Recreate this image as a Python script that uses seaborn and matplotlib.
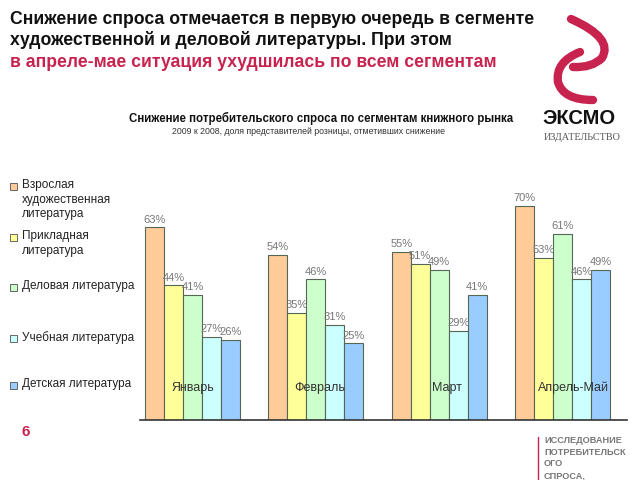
import numpy as np
import pandas as pd
import matplotlib
matplotlib.use("Agg")
import matplotlib.pyplot as plt
import seaborn as sns
from matplotlib.path import Path
from matplotlib.patches import PathPatch, Rectangle

# data
months = ["Январь", "Февраль", "Март", "Апрель-Май"]
segments = [
    "Взрослая\nхудожественная\nлитература",
    "Прикладная\nлитература",
    "Деловая литература",
    "Учебная литература",
    "Детская литература",
]
adult_fiction = [63, 54, 55, 70]
applied = [44, 35, 51, 53]
business = [41, 46, 49, 61]
education = [27, 31, 29, 46]
children = [26, 25, 41, 49]

colors = ["#FFCC99", "#FFFF99", "#CCFFCC", "#CCFFFF", "#99CCFF"]
RED = "#C8234F"
W, H = 640, 480

df = pd.DataFrame({
    "month": months * 5,
    "segment": np.repeat(segments, 4),
    "value": adult_fiction + applied + business + education + children,
})

sns.set_theme(style="white")
plt.rcParams["font.family"] = ["Liberation Sans", "DejaVu Sans"]

fig = plt.figure(figsize=(6.4, 4.8), dpi=100)
ax = fig.add_axes([0.219, 0.126, 0.76, 0.508])

sns.barplot(
    data=df, x="month", y="value", hue="segment",
    order=months, hue_order=segments, palette=colors,
    width=0.77, edgecolor="#556655", linewidth=0.8,
    saturation=1, errorbar=None, legend=False, ax=ax,
)

for cont in ax.containers:
    ax.bar_label(cont, fmt="%d%%", padding=2, fontsize=8, color="#777777")

for i, m in enumerate(months):
    ax.text(i + 0.03 * i, 10.3, m, ha="center", va="center", fontsize=9,
            color="#333333")

ax.set_ylim(0, 80)
ax.set_xlim(-0.426, 3.52)
ax.set_xlabel("")
ax.set_ylabel("")
ax.set_xticks([])
ax.set_yticks([])
for s in ["top", "right", "left"]:
    ax.spines[s].set_visible(False)
ax.spines["bottom"].set_color("#333333")
ax.spines["bottom"].set_linewidth(1.2)

# legend on the left, marker next to first line of each label
leg_y = [186, 237, 287, 338, 385]
for lab, col, y in zip(segments, colors, leg_y):
    fig.patches.append(Rectangle((10 / W, 1 - (y + 3.5) / H), 7 / W, 7 / H,
                                 transform=fig.transFigure, facecolor=col,
                                 edgecolor="#666666", linewidth=0.7))
    fig.text(22 / W, 1 - (y - 7) / H, lab, ha="left", va="top", fontsize=8.5,
             color="#222222", linespacing=1.3)

# headline
fig.text(0.016, 0.978, "Снижение спроса отмечается в первую очередь в сегменте\n"
         "художественной и деловой литературы. При этом",
         ha="left", va="top", fontsize=12.7, fontweight="bold", color="#111111",
         linespacing=1.25)
fig.text(0.016, 0.869, "в апреле-мае ситуация ухудшилась по всем сегментам",
         ha="left", va="center", fontsize=12.7, fontweight="bold", color=RED)

# chart title
fig.text(0.502, 0.754, "Снижение потребительского спроса по сегментам книжного рынка",
         ha="center", va="center", fontsize=8.3, fontweight="bold", color="#111111")
fig.text(0.482, 0.725, "2009 к 2008, доля представителей розницы, отметивших снижение",
         ha="center", va="center", fontsize=6.3, color="#333333")

# logo swirl
def swirl(pts):
    verts = [(x / W, 1 - y / H) for x, y in pts]
    codes = [Path.MOVETO] + [Path.CURVE3] * (len(pts) - 1)
    fig.patches.append(PathPatch(Path(verts, codes), transform=fig.transFigure,
                                 fill=False, edgecolor=RED, linewidth=6,
                                 capstyle="round"))

swirl([(571, 19), (614, 38), (602, 58), (592, 68), (573, 67)])
swirl([(580, 52), (555, 62), (558, 82), (563, 100), (593, 100)])
fig.text(0.848, 0.754, "ЭКСМО", ha="left", va="center", fontsize=14.5,
         fontweight="bold", color="#111111")
fig.text(0.849, 0.714, "ИЗДАТЕЛЬСТВО", ha="left", va="center", fontsize=7.3,
         color="#555555", family=["Liberation Serif", "DejaVu Serif"])

# footer
fig.text(0.034, 0.1, "6", ha="left", va="center", fontsize=11, fontweight="bold", color=RED)
fig.add_artist(plt.Line2D([0.841, 0.841], [0.0, 0.09], transform=fig.transFigure,
                          color=RED, linewidth=1))
fig.text(0.85, 0.092, "ИССЛЕДОВАНИЕ\nПОТРЕБИТЕЛЬСК\nОГО\nСПРОСА,", ha="left", va="top",
         fontsize=6.6, fontweight="bold", color="#777777", linespacing=1.4)

fig.savefig("out.png", dpi=100)
